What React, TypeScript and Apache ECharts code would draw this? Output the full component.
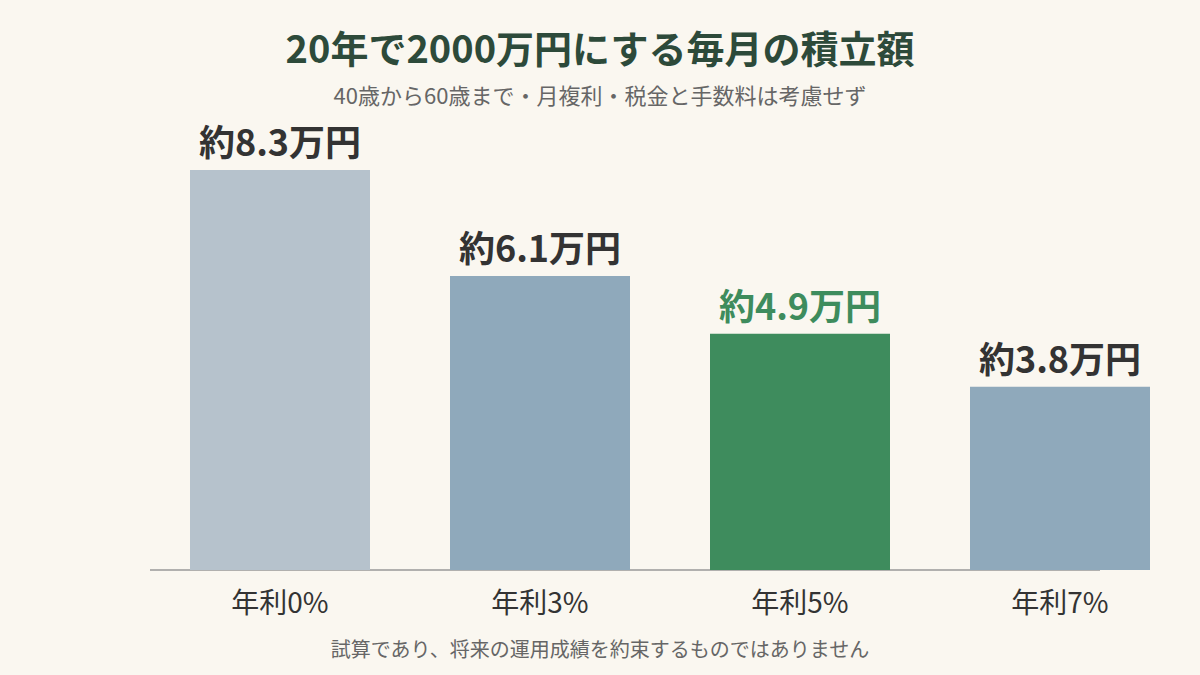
import { useEffect, useRef } from 'react';
import * as echarts from 'echarts';
import type { EChartsOption } from 'echarts';

const categories = ['年利0%', '年利3%', '年利5%', '年利7%'];
const monthlyAmounts = [8.3, 6.1, 4.9, 3.8];
const barColors = ['#b6c2cc', '#8fa9bb', '#3e8c5d', '#8fa9bb'];
const labelColors = ['#333333', '#333333', '#3e8c5d', '#333333'];

const FONT = '"Noto Sans CJK JP", "Noto Sans", sans-serif';

const App = () => {
  const chartRef = useRef<HTMLDivElement>(null);

  useEffect(() => {
    if (!chartRef.current) return;
    document.body.style.margin = '0';
    const chart = echarts.init(chartRef.current, undefined, { renderer: 'svg' });

    const option: EChartsOption = {
      animation: false,
      backgroundColor: '#faf7f0',
      textStyle: { fontFamily: FONT },
      title: [
        {
          text: '20年で2000万円にする毎月の積立額',
          left: 'center',
          top: 22,
          textStyle: { fontSize: 38, fontWeight: 'bold', color: '#2d4a3a', fontFamily: FONT },
        },
        {
          text: '40歳から60歳まで・月複利・税金と手数料は考慮せず',
          left: 'center',
          top: 78,
          textStyle: { fontSize: 22, fontWeight: 'normal', color: '#666666', fontFamily: FONT },
        },
        {
          text: '試算であり、将来の運用成績を約束するものではありません',
          left: 'center',
          top: 633,
          textStyle: { fontSize: 20, fontWeight: 'normal', color: '#666666', fontFamily: FONT },
        },
      ],
      grid: { left: 150, right: 10, top: 88, bottom: 105 },
      xAxis: {
        type: 'category',
        data: categories,
        axisLine: { show: false },
        axisTick: { show: false },
        axisLabel: { fontSize: 28, color: '#333333', margin: 17, fontFamily: FONT },
      },
      yAxis: {
        type: 'value',
        min: 0,
        max: 10,
        show: false,
        splitLine: { show: false },
      },
      graphic: [
        {
          type: 'line',
          z: 0,
          shape: { x1: 150, y1: 570, x2: 1100, y2: 570 },
          style: { stroke: '#999999', lineWidth: 1.5 },
        },
      ],
      series: [
        {
          type: 'bar',
          barWidth: 180,
          z: 3,
          data: monthlyAmounts.map((v, i) => ({
            value: v,
            itemStyle: { color: barColors[i] },
            label: { color: labelColors[i] },
          })),
          label: {
            show: true,
            position: 'top',
            distance: 12,
            fontSize: 36,
            fontWeight: 'bold',
            fontFamily: FONT,
            formatter: (p: any) => `約${p.value}万円`,
          },
        },
      ],
    };

    chart.setOption(option);
    return () => chart.dispose();
  }, []);

  return <div ref={chartRef} style={{ width: 1200, height: 675 }} />;
};

export default App;
